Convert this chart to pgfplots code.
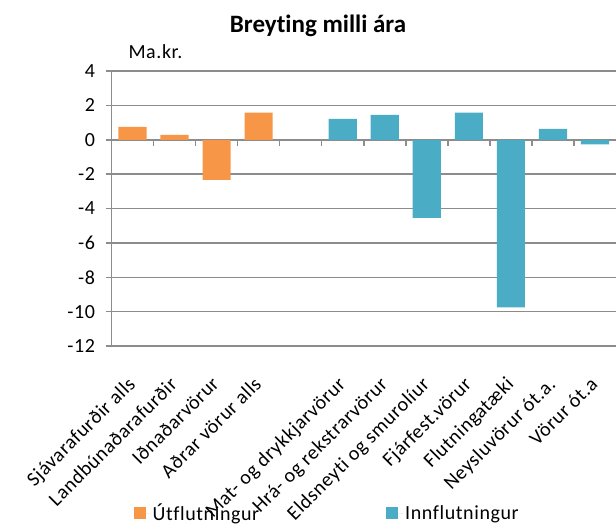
\documentclass[border=0pt]{standalone}
\usepackage{pgfplots}
\pgfplotsset{compat=1.18}
\usepackage{fontspec}
\setmainfont{Carlito}[Ligatures={NoCommon}, LetterSpace=3]
\newfontfamily\titlefont{Carlito}[Ligatures={NoCommon}]
\definecolor{exo}{HTML}{F79646}
\definecolor{imp}{HTML}{4BACC6}
\definecolor{gridc}{HTML}{8C8C8C}
\begin{document}
\begin{tikzpicture}[x=1pt,y=1pt]
\useasboundingbox (0,0) rectangle (616,523);
\begin{axis}[
 at={(111.5pt,177pt)}, anchor=south west,
 scale only axis, width=504.5pt, height=275pt,
 xmin=-0.5, xmax=11.5, ymin=-12, ymax=4,
 ytick={-12,-10,...,4},
 xtick={0,1,2,3,5,6,7,8,9,10,11},
 xticklabels={Sjávarafurðir alls,Landbúnaðarafurðir,Iðnaðarvörur,Aðrar vörur alls,Mat- og drykkjarvörur,Hrá- og rekstrarvörur,Eldsneyti og smurolíur,Fjárfest.vörur,Flutningatæki,Neysluvörur ót.a.,Vörur ót.a},
 axis y line*=left, axis x line*=bottom,
 axis line style={-},
 x axis line style={draw=none},
 y axis line style={draw=gridc, line width=1.5pt},
 ymajorgrids, grid style={draw=gridc, line width=1.5pt},
 tick align=outside, major tick length=6pt,
 x tick style={draw=none},
 y tick style={draw=gridc, line width=1.5pt},
 tick label style={font=\fontsize{20}{24}\selectfont},
 yticklabel style={xshift=-7pt},
 /pgf/number format/assume math mode=true,
 xticklabel style={xshift=-6pt, yshift=-22pt, rotate=45, anchor=north east, inner sep=1pt},
 legend style={at={(axis description cs:0,0)}, anchor=west, xshift=22pt, yshift=-167pt,
   draw=none, fill=none, font=\fontsize{20}{24}\selectfont, inner sep=0pt,
   /tikz/every even column/.append style={column sep=125pt}},
 legend columns=2, legend cell align=left,
]
\addplot[ybar, bar width=0.67, bar shift=0pt, fill=exo, draw=none,
  legend image code/.code={\fill[exo] (0pt,-6pt) rectangle (12pt,6pt); \path (0pt,0pt) -- (17pt,0pt);}]
  coordinates {(0,0.75) (1,0.28) (2,-2.33) (3,1.58)};
\addlegendentry{Útflutningur}
\addplot[ybar, bar width=0.67, bar shift=0pt, fill=imp, draw=none,
  legend image code/.code={\fill[imp] (0pt,-6pt) rectangle (12pt,6pt); \path (0pt,0pt) -- (17pt,0pt);}]
  coordinates {(5,1.22) (6,1.45) (7,-4.55) (8,1.58) (9,-9.75) (10,0.64) (11,-0.27)};
\addlegendentry{Innflutningur}
\pgfplotsinvokeforeach{0.5,1.5,2.5,3.5,4.5,5.5,6.5,7.5,8.5,9.5,10.5}{
  \draw[gridc,line width=1.5pt] (axis cs:#1,0) -- ([yshift=-6pt]axis cs:#1,0);
}
\end{axis}
\node[anchor=base, font=\fontsize{25}{30}\titlefont\bfseries] at (318,490) {Breyting milli ára};
\node[anchor=base west, font=\fontsize{20}{24}\selectfont] at (125,464) {Ma.kr.};
\end{tikzpicture}
\end{document}
